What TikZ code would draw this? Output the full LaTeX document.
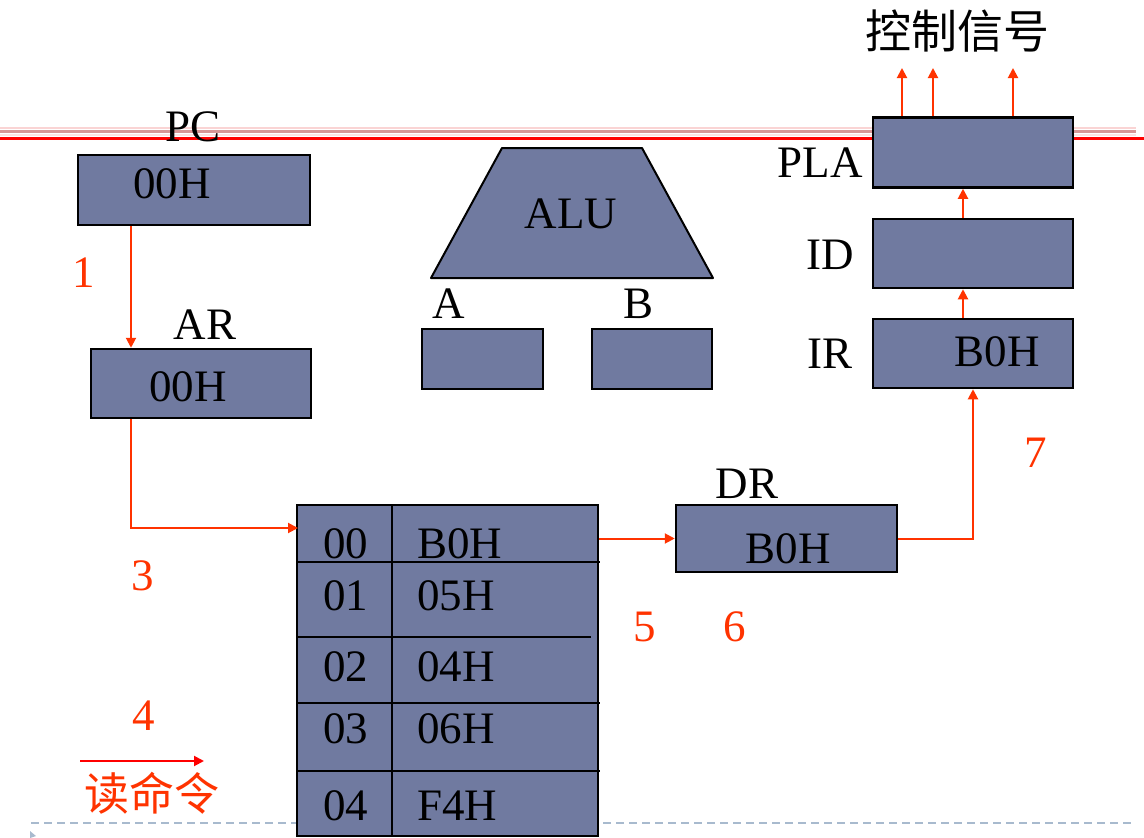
\documentclass[tikz,border=0pt]{standalone}
\usepackage{fontspec}
\setmainfont{Liberation Serif}
\newfontfamily\cjk{Noto Sans CJK SC}
\usetikzlibrary{positioning}
\usetikzlibrary{arrows.meta}
\definecolor{regfill}{RGB}{112,122,160}
\definecolor{sigred}{RGB}{255,51,0}
\definecolor{rulepink}{RGB}{250,212,212}
\definecolor{rulerose}{RGB}{215,150,150}
\definecolor{rulelight}{RGB}{252,228,228}
\definecolor{rulered}{RGB}{255,0,0}
\definecolor{dashgray}{RGB}{168,186,206}

\tikzset{
  reg/.style={draw=black, line width=2.5pt, fill=regfill, inner sep=0pt},
  sig/.style={draw=sigred, line width=2pt, -{Triangle[length=10pt,width=10pt]}},
  lbl/.style={font=\fontsize{45}{54}\selectfont, inner sep=0pt},
  num/.style={lbl, text=sigred},
  hz/.style={font=\cjk\fontsize{45}{54}\selectfont, inner sep=0pt},
}

\begin{document}
\begin{tikzpicture}[x=1pt,y=-1pt]
  \useasboundingbox (0,0) rectangle (1144,838);
  % slide rules
  \draw[rulepink, line width=2pt] (0,128) -- (1136,128);
  \draw[rulerose, line width=2.5pt] (0,131.5) -- (1136,131.5);
  \draw[rulelight, line width=1.5pt] (0,135) -- (1136,135);
  \draw[rulered, line width=2.5pt] (0,138.5) -- (1144,138.5);
  \draw[dashgray, line width=2.5pt, dash pattern=on 8pt off 5pt] (31,823) -- (1135,823);
  \fill[dashgray] (30,831) -- (36,836) -- (30,838) -- cycle;

  % registers
  \node(pc) [reg, minimum width=232pt, minimum height=70pt] at (194,190) {};
  \node(ar) [reg, minimum width=220pt, minimum height=69pt] at (201,383.5) {};
  \node(rega) [reg, minimum width=121pt, minimum height=60pt] at (482.5,359) {};
  \node(regb) [reg, minimum width=120pt, minimum height=60pt] at (652,359) {};
  \node(dr) [reg, minimum width=221pt, minimum height=67pt] at (786.5,538.5) {};
  \node(ir) [reg, minimum width=200pt, minimum height=69pt] at (973,353.5) {};
  \node(id) [reg, minimum width=200pt, minimum height=69pt] at (973,253.5) {};
  \node(pla) [reg, minimum width=200pt, minimum height=70pt] at (973,152.5) {};
  \draw[fill=regfill, line width=2pt, line join=round] (502,148) -- (642,148) -- (713,278) -- (431,278) -- cycle;

  \node(pclbl) [lbl] at (193,127) {PC};
  \node(pcval) [lbl] at (172,184) {00H};
  \node(arlbl) [lbl] at (205,325) {AR};
  \node(arval) [lbl] at (188,387) {00H};
  \node(alu) [lbl] at (571,214) {ALU};
  \node(albl) [lbl] at (449,304) {A};
  \node(blbl) [lbl] at (639,304) {B};
  \node(drlbl) [lbl] at (747,484) {DR};
  \node(drval) [lbl] at (788,549) {B0H};
  \node(irlbl) [lbl] at (830,354) {IR};
  \node(irval) [lbl] at (997,352) {B0H};
  \node(idlbl) [lbl] at (830,255) {ID};
  \node(plalbl) [lbl] at (820,163) {PLA};
  \node(ctrl) [hz, font=\cjk\fontsize{46}{54}\selectfont] at (957,31) {控制信号};

  % memory
  \node(mem) [reg, minimum width=301pt, minimum height=331pt] at (447.5,670.5) {};
  \draw[line width=2.5pt] (392,505) -- (392,836);
  \foreach \y in {562,703,771}
    \draw[line width=2.5pt] (297,\y) -- (600,\y);
  \draw[line width=2.5pt] (297,637) -- (591,637);
  \foreach \i/\y/\v in {0/544/B0H,1/596/05H,2/667/04H,3/729/06H,4/806/F4H} {
    \node(addr\i) [lbl, anchor=west] at (323,\y) {0\i};
    \node(val\i) [lbl, anchor=west] at (417,\y) {\v};
  }

  % step numbers
  \node(s1) [num] at (84,273) {1};
  \node(s3) [num] at (143,576) {3};
  \node(s4) [num] at (144,716) {4};
  \node(s5) [num] at (645,627) {5};
  \node(s6) [num] at (735,627) {6};
  \node(s7) [num] at (1036,453) {7};

  % signal paths
  \coordinate(bus) at (131,0);
  \coordinate(memin) at (298,528);
  \coordinate(out1) at (902,68);
  \coordinate(out2) at (933,68);
  \coordinate(out3) at (1013,68);
  \draw[sig] (pc.south -| bus) -- (ar.north -| bus);
  \draw[sig] (ar.south -| bus) |- (memin);
  \draw[sig] (mem.east |- dr.west) -- (dr.west);
  \draw[sig] (dr.east) -| (ir.south);
  \draw[sig] ([xshift=-10pt]ir.north) -- ([xshift=-10pt]id.south);
  \draw[sig] ([xshift=-10pt]id.north) -- ([xshift=-10pt]pla.south);
  \draw[sig] (pla.north -| out1) -- (out1);
  \draw[sig] (pla.north -| out2) -- (out2);
  \draw[sig] (pla.north -| out3) -- (out3);

  % read command
  \coordinate(rdstart) at (80,761);
  \coordinate(rdend) at (204,761);
  \draw[sig, draw=rulered] (rdstart) -- (rdend);
  \node(rdcmd) [hz, text=sigred] at (152,793) {读命令};
\end{tikzpicture}
\end{document}
